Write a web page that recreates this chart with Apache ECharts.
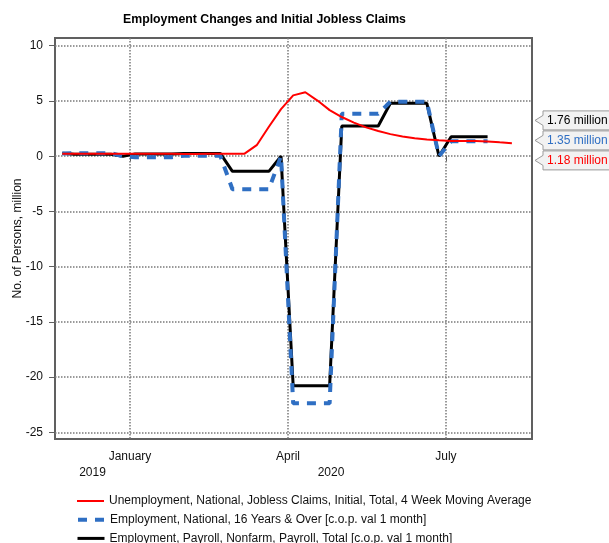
<!DOCTYPE html>
<html><head><meta charset="utf-8">
<script src="https://cdn.jsdelivr.net/npm/echarts@6/dist/echarts.min.js"></script>
<style>html,body{margin:0;padding:0;background:#fff}#c{width:609px;height:543px}</style>
</head><body><div id="c"></div>
<script>
// ---------- DATA ----------
const titleText = 'Employment Changes and Initial Jobless Claims';
const yAxisName = 'No. of Persons, million';
const claimsName = 'Unemployment, National, Jobless Claims, Initial, Total, 4 Week Moving Average';
const householdName = 'Employment, National, 16 Years & Over [c.o.p. val 1 month]';
const payrollName = 'Employment, Payroll, Nonfarm, Payroll, Total [c.o.p. val 1 month]';

const claimDates = ['2019-11-23','2019-11-30','2019-12-07','2019-12-14','2019-12-21','2019-12-28',
  '2020-01-04','2020-01-11','2020-01-18','2020-01-25','2020-02-01','2020-02-08','2020-02-15','2020-02-22',
  '2020-02-29','2020-03-07','2020-03-14','2020-03-21','2020-03-28','2020-04-04','2020-04-11','2020-04-18',
  '2020-04-25','2020-05-02','2020-05-09','2020-05-16','2020-05-23','2020-05-30','2020-06-06','2020-06-13',
  '2020-06-20','2020-06-27','2020-07-04','2020-07-11','2020-07-18','2020-07-25','2020-08-01','2020-08-08'];
const claimsValues = [0.218,0.224,0.226,0.228,0.233,0.224,
  0.216,0.215,0.211,0.212,0.210,0.210,0.212,0.213,
  0.212,0.227,0.998,2.667,4.266,5.508,5.787,5.035,
  4.174,3.546,3.042,2.608,2.285,1.999,1.789,1.623,
  1.503,1.436,1.377,1.368,1.367,1.339,1.253,1.18];

const empDates = ['2019-11-23','2019-11-30','2019-12-07','2019-12-14','2019-12-21','2019-12-28',
  '2020-01-04','2020-01-11','2020-01-18','2020-01-25','2020-02-01','2020-02-08','2020-02-15','2020-02-22',
  '2020-02-29','2020-03-07','2020-03-14','2020-03-21','2020-03-28','2020-04-04','2020-04-11','2020-04-18',
  '2020-04-25','2020-05-02','2020-05-09','2020-05-16','2020-05-23','2020-05-30','2020-06-06','2020-06-13',
  '2020-06-20','2020-06-27','2020-07-04','2020-07-11','2020-07-18','2020-07-25'];
const householdValues = [0.25,0.27,0.27,0.27,0.27,0,
  -0.09,-0.09,-0.09,-0.09,0.05,0.05,0.05,0.05,
  -2.99,-2.99,-2.99,-2.99,0,-22.37,-22.37,-22.37,
  -22.37,3.84,3.84,3.84,3.84,4.94,4.94,4.94,
  4.94,0,1.35,1.35,1.35,1.35];
const payrollValues = [0.26,0.18,0.18,0.18,0.18,0,
  0.21,0.21,0.21,0.21,0.25,0.25,0.25,0.25,
  -1.37,-1.37,-1.37,-1.37,0,-20.79,-20.79,-20.79,
  -20.79,2.73,2.73,2.73,2.73,4.79,4.79,4.79,
  4.79,0,1.76,1.76,1.76,1.76];

const monthTickDates = ['2020-01-01','2020-04-01','2020-07-01'];
const monthTickLabels = ['January','April','July'];
const yearLabels = ['2019','2020'];
const yearBoundary = '2020-01-01';
const yTicks = [-25,-20,-15,-10,-5,0,5,10];

// ---------- HELPERS ----------
function ts(s){ const p = s.split('-').map(Number); return new Date(p[0], p[1]-1, p[2]).getTime(); }
function zip(d, v){ return d.map((x,i)=>[ts(x), v[i]]); }

const xMin = new Date(2019,10,18,19).getTime();
const xMax = new Date(2020,7,19,14).getTime();
const yMin = -25.6, yMax = 10.7;

const monthTicks = monthTickDates.map(ts);
const yb = ts(yearBoundary);
const yearPos = [(xMin + yb)/2, (yb + xMax)/2];

const FONT = "'Liberation Sans', Arial, Helvetica, sans-serif";
const C_RED = '#ff0000', C_BLUE = '#2f6fc3', C_BLACK = '#000000';

function nearestIdx(arr, v){ let b=0; for(let i=1;i<arr.length;i++){ if(Math.abs(arr[i]-v) < Math.abs(arr[b]-v)) b=i; } return b; }

const seriesDefs = [
  {name:claimsName, color:C_RED, width:2, type:'solid'},
  {name:householdName, color:C_BLUE, width:4, type:[9,8]},
  {name:payrollName, color:C_BLACK, width:3, type:'solid'}
];
const legends = seriesDefs.map((s,i)=>({
  orient:'vertical', left:76, top:495 + i*18.7, itemWidth:27, itemHeight:14, padding:0,
  textStyle:{fontSize:12, color:'#111', fontFamily:FONT},
  itemStyle:{opacity:0},
  lineStyle:{color:s.color, width:s.width, type:s.type, opacity:1},
  data:[s.name]
}));

const chart = echarts.init(document.getElementById('c'), null, {renderer:'canvas'});
chart.setOption({
  animation:false,
  backgroundColor:'#ffffff',
  textStyle:{fontFamily:FONT},
  grid:{left:55, right:77, top:38, bottom:104, show:true, borderColor:'#606060', borderWidth:2,
    backgroundColor:'transparent', containLabel:false, outerBoundsMode:'none'},
  legend:legends,
  xAxis:[{
    type:'value', min:xMin, max:xMax, scale:true,
    axisLine:{show:false},
    axisTick:{show:true, length:5, customValues:monthTicks, lineStyle:{color:'#606060', width:1}},
    axisLabel:{customValues:monthTicks, margin:12, fontSize:12, color:'#111', fontFamily:FONT,
      formatter:function(v){ return monthTickLabels[nearestIdx(monthTicks, v)]; }},
    splitLine:{show:true, lineStyle:{type:'dotted', color:'#7a7a7a', width:1.5}}
  },{
    type:'value', min:xMin, max:xMax, scale:true, position:'bottom',
    axisLine:{show:false}, axisTick:{show:false}, splitLine:{show:false},
    axisLabel:{customValues:yearPos, margin:28, fontSize:12, color:'#111', fontFamily:FONT,
      formatter:function(v){ return yearLabels[nearestIdx(yearPos, v)]; }}
  }],
  yAxis:{
    type:'value', min:yMin, max:yMax,
    name:yAxisName, nameLocation:'middle', nameGap:31, nameMoveOverlap:false,
    nameTextStyle:{fontSize:12, color:'#111', fontFamily:FONT},
    axisLine:{show:false},
    axisTick:{show:true, length:6, customValues:yTicks, lineStyle:{color:'#606060', width:1}},
    axisLabel:{customValues:yTicks, margin:12, fontSize:12, color:'#111', fontFamily:FONT},
    splitLine:{show:true, lineStyle:{type:'dotted', color:'#7a7a7a', width:1.5}}
  },
  series:[
    {name:payrollName, type:'line', data:zip(empDates, payrollValues), symbol:'none', showSymbol:false,
      lineStyle:{color:C_BLACK, width:3}, itemStyle:{color:C_BLACK}, z:2},
    {name:householdName, type:'line', data:zip(empDates, householdValues), symbol:'none', showSymbol:false,
      lineStyle:{color:C_BLUE, width:4, type:[9,8]}, itemStyle:{color:C_BLUE}, z:3},
    {name:claimsName, type:'line', data:zip(claimDates, claimsValues), symbol:'none', showSymbol:false,
      lineStyle:{color:C_RED, width:2}, itemStyle:{color:C_RED}, z:4}
  ]
});

// ---------- title and end-value callouts ----------
const items = [
  {v: payrollValues[payrollValues.length-1], c: C_BLACK},
  {v: householdValues[householdValues.length-1], c: C_BLUE},
  {v: claimsValues[claimsValues.length-1], c: C_RED}
].sort((a,b)=>b.v-a.v);
const py = items.map(it => chart.convertToPixel({yAxisIndex:0}, it.v));
const mean = py.reduce((a,b)=>a+b,0)/py.length;
const tipX = chart.convertToPixel({xAxisIndex:0}, xMax) + 3;
const gridL = chart.convertToPixel({xAxisIndex:0}, xMin);
const graphics = [];
graphics.push({type:'text', x:(gridL + tipX - 3)/2 - 29, y:19.5, z:10,
  style:{text:titleText, textAlign:'center', textVerticalAlign:'middle',
    font:"bold 12.3px " + FONT, fill:'#000'}});
items.forEach((it,i)=>{
  const cy = mean + (i - (items.length-1)/2) * 20;
  graphics.push({type:'polygon', z:10,
    shape:{points:[[tipX,cy],[tipX+8,cy-5],[tipX+8,cy-9.5],[tipX+100,cy-9.5],[tipX+100,cy+9.5],[tipX+8,cy+9.5],[tipX+8,cy+5]]},
    style:{fill:'#f2f2f2', stroke:'#9a9a9a', lineWidth:1}});
  graphics.push({type:'text', z:11, x:tipX+12, y:cy,
    style:{text: it.v.toFixed(2) + ' million', textVerticalAlign:'middle',
      font:"12px " + FONT, fill: it.c}});
});
chart.setOption({graphic: graphics});
</script>
</body></html>
